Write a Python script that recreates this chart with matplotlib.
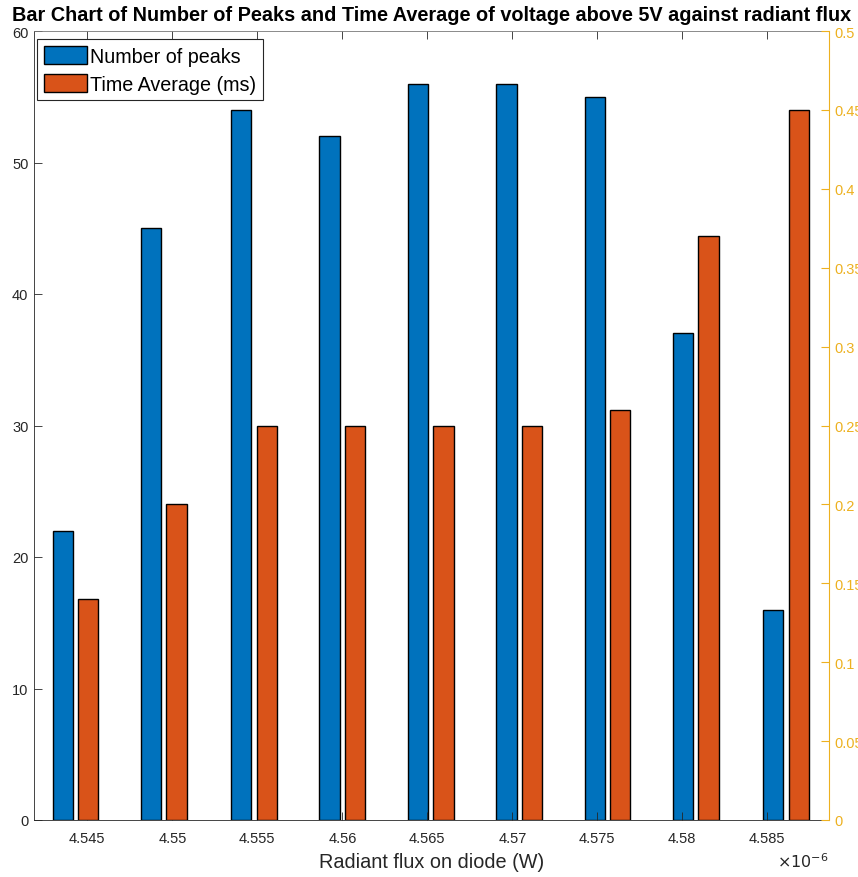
import matplotlib
matplotlib.use('Agg')
import matplotlib.pyplot as plt
from matplotlib.ticker import FuncFormatter

plt.rcParams['font.family'] = ['Liberation Sans', 'DejaVu Sans']

# radiant flux (in units of 1e-6 W) for each measurement group
flux = [4.5443, 4.5495, 4.5548, 4.5600, 4.5652, 4.5704, 4.5756, 4.5808, 4.5861]
num_peaks = [22, 45, 54, 52, 56, 56, 55, 37, 16]
time_avg = [0.14, 0.20, 0.25, 0.25, 0.25, 0.25, 0.26, 0.37, 0.45]
xticks = [4.545, 4.55, 4.555, 4.56, 4.565, 4.57, 4.575, 4.58, 4.585]

BLUE = '#0072BD'
ORANGE = '#D95319'
YELLOW = '#EDB120'
GREY = '#262626'

bar_w = 0.0012
shift = 0.00075

fig = plt.figure(figsize=(8.58, 8.78), dpi=100)
ax = fig.add_axes([34/858, 57/878, 795/858, 789/878])
ax2 = ax.twinx()

b1 = ax.bar([f - shift for f in flux], num_peaks, width=bar_w, color=BLUE,
            edgecolor='black', linewidth=1.0, label='Number of peaks')
b2 = ax2.bar([f + shift for f in flux], time_avg, width=bar_w, color=ORANGE,
             edgecolor='black', linewidth=1.0, label='Time Average (ms)')

ax.set_xlim(4.54186, 4.58863)
ax.set_ylim(0, 60)
ax2.set_ylim(0, 0.5)

ax.set_xticks(xticks)
ax.xaxis.set_major_formatter(FuncFormatter(lambda v, p: '%g' % round(v, 4)))
ax.set_yticks(range(0, 61, 10))
ax2.set_yticks([i * 0.05 for i in range(11)])
ax2.yaxis.set_major_formatter(FuncFormatter(lambda v, p: '%g' % round(v, 3)))

# MATLAB-ish look: inward ticks, box on
ax.tick_params(axis='x', direction='in', top=True, bottom=True, length=6,
               width=0.6, colors=GREY, labelsize=10.5, pad=8)
ax.tick_params(axis='y', direction='in', left=True, right=False, length=6,
               width=0.6, colors=GREY, labelsize=10.5, pad=4)
ax2.tick_params(axis='y', direction='in', length=6, width=0.8, colors=YELLOW,
                labelsize=10.5, pad=4)

for s in ['left', 'bottom', 'top']:
    ax.spines[s].set_color(GREY)
    ax.spines[s].set_linewidth(0.6)
ax.spines['top'].set_color('#777777')
ax.spines['right'].set_visible(False)
for s in ['left', 'bottom', 'top']:
    ax2.spines[s].set_visible(False)
ax2.spines['right'].set_color(YELLOW)
ax2.spines['right'].set_linewidth(0.8)

ax.set_title('Bar Chart of Number of Peaks and Time Average of voltage above 5V against radiant flux',
             fontsize=14.3, fontweight='bold', pad=8)
ax.set_xlabel('Radiant flux on diode (W)', fontsize=14.3, color=GREY, labelpad=5)
ax.text(1.0, -0.052, r'$\times10^{-6}$', transform=ax.transAxes, ha='right',
        va='center', fontsize=11.5, color=GREY)

leg = ax2.legend([b1, b2], ['Number of peaks', 'Time Average (ms)'],
                 loc='upper left', bbox_to_anchor=(3/795, 1 - 8/789),
                 borderaxespad=0, fontsize=14.2, frameon=True, fancybox=False,
                 edgecolor=GREY, framealpha=1, handlelength=2.2,
                 handleheight=1.05, handletextpad=0.15, labelspacing=0.4,
                 borderpad=0.35)
leg.get_frame().set_linewidth(0.8)

fig.savefig('out.png', dpi=100)
